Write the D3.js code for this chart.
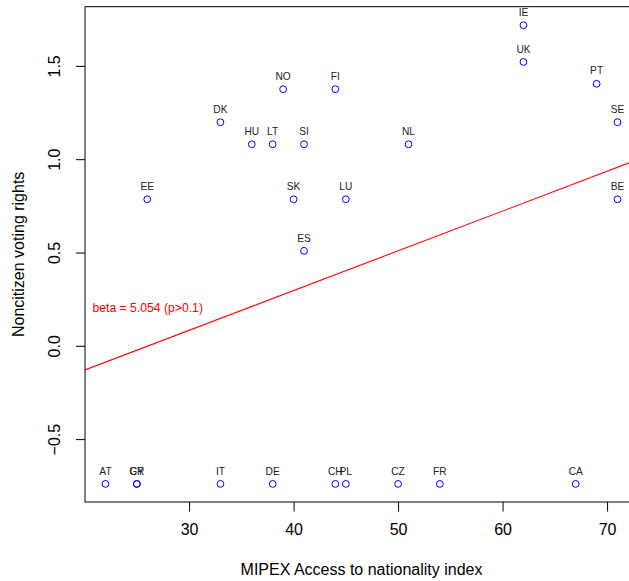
<!DOCTYPE html>
<html>
<head>
<meta charset="utf-8">
<script src="https://cdn.jsdelivr.net/npm/d3@7"></script>
<style>
  html, body { margin: 0; padding: 0; background: #fff; }
  svg { display: block; font-family: "Liberation Sans", Arial, Helvetica, sans-serif; }
</style>
</head>
<body>
<svg id="chart" width="629" height="581"></svg>
<script>
// ---- data ----
const countries = ["AT","GR","CY","IT","DE","CH","PL","CZ","FR","CA",
                   "EE","DK","HU","LT","NO","SI","SK","ES","FI","LU",
                   "NL","IE","UK","PT","SE","BE"];
const mipex =     [22, 25, 25, 33, 38, 44, 45, 50, 54, 67,
                   26, 33, 36, 38, 39, 41, 40, 41, 44, 45,
                   51, 62, 62, 69, 71, 71];
const voting =    [-0.74, -0.74, -0.74, -0.74, -0.74, -0.74, -0.74, -0.74, -0.74, -0.74,
                   0.785, 1.198, 1.08, 1.08, 1.375, 1.08, 0.785, 0.509, 1.375, 0.785,
                   1.08, 1.718, 1.521, 1.404, 1.198, 0.785];
const xTicks = [30, 40, 50, 60, 70];
const yTicks = [-0.5, 0.0, 0.5, 1.0, 1.5];
const fitIntercept = -0.556;
const fitSlope = 0.0213;
const betaLabel = "beta = 5.054 (p>0.1)";
const xTitle = "MIPEX Access to nationality index";
const yTitle = "Noncitizen voting rights";

// ---- layout ----
const svg = d3.select("#chart");
const L = 85, R = 638, T = 6.7, B = 502;
const x = d3.scaleLinear().domain([20.04, 72.96]).range([L, R]);
const y = d3.scaleLinear().domain([-0.837, 1.817]).range([B, T]);

svg.append("defs").append("clipPath").attr("id", "plotclip")
  .append("rect").attr("x", L).attr("y", T).attr("width", R - L).attr("height", B - T);

// regression line
const xd = x.domain();
svg.append("line")
  .attr("clip-path", "url(#plotclip)")
  .attr("x1", x(xd[0])).attr("y1", y(fitIntercept + fitSlope * xd[0]))
  .attr("x2", x(xd[1])).attr("y2", y(fitIntercept + fitSlope * xd[1]))
  .attr("stroke", "#ff0000").attr("stroke-width", 1.1);

// box
svg.append("rect").attr("x", L).attr("y", T).attr("width", R - L).attr("height", B - T)
  .attr("fill", "none").attr("stroke", "#000").attr("stroke-width", 1);

// x axis
const xAxis = d3.axisBottom(x).tickValues(xTicks).tickFormat(d3.format("d"))
  .tickSize(9.5).tickPadding(12);
const gx = svg.append("g").attr("transform", `translate(0,${B})`).call(xAxis);
gx.select(".domain").remove();
gx.selectAll("text").attr("font-size", 16).attr("fill", "#000")
  .attr("font-family", "Liberation Sans, Arial, sans-serif");

// y axis
const yAxis = d3.axisLeft(y).tickValues(yTicks).tickFormat(d3.format(".1f"))
  .tickSize(9).tickPadding(0);
const gy = svg.append("g").attr("transform", `translate(${L},0)`).call(yAxis);
gy.select(".domain").remove();
gy.selectAll(".tick text")
  .attr("font-size", 16).attr("fill", "#000")
  .attr("font-family", "Liberation Sans, Arial, sans-serif")
  .attr("x", null).attr("dy", null)
  .attr("text-anchor", "middle")
  .attr("transform", "translate(-29,0) rotate(-90)")
  .attr("dominant-baseline", "middle")
  .text(d => d3.format(".1f")(d).replace("-", "\u2212"));

// points
const pts = countries.map((c, i) => ({c, xv: mipex[i], yv: voting[i]}));
svg.append("g").selectAll("circle").data(pts).join("circle")
  .attr("cx", d => x(d.xv)).attr("cy", d => y(d.yv)).attr("r", 3.4)
  .attr("fill", "none").attr("stroke", "#0000ff").attr("stroke-width", 1);

svg.append("g").selectAll("text").data(pts).join("text")
  .attr("x", d => x(d.xv)).attr("y", d => y(d.yv) - 9.3)
  .attr("text-anchor", "middle").attr("font-size", 10.2).attr("fill", "#222")
  .text(d => d.c);

// beta label
svg.append("text").attr("x", 92.5).attr("y", 311.7)
  .attr("font-size", 12.2).attr("fill", "#ff0000").text(betaLabel);

// axis titles
svg.append("text").attr("x", (L + R) / 2).attr("y", 575)
  .attr("text-anchor", "middle").attr("font-size", 16).attr("fill", "#000").text(xTitle);
svg.append("text").attr("transform", `translate(24,${(T + B) / 2}) rotate(-90)`)
  .attr("text-anchor", "middle").attr("font-size", 16).attr("fill", "#000").text(yTitle);
</script>
</body>
</html>
